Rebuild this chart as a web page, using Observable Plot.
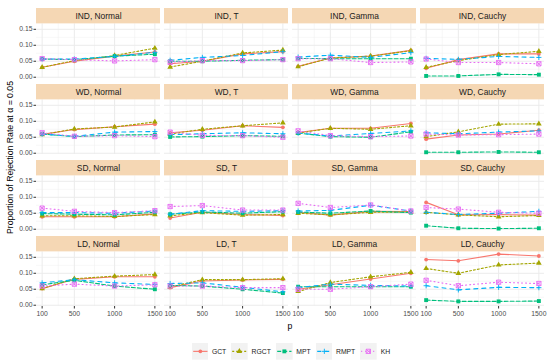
<!DOCTYPE html>
<html><head><meta charset="utf-8">
<script src="https://cdn.jsdelivr.net/npm/d3@7"></script>
<script src="https://cdn.jsdelivr.net/npm/@observablehq/plot@0.6"></script>
<style>
body{margin:0;background:#fff;font-family:"Liberation Sans",Arial,sans-serif;}
#chart{width:550px;height:364px;position:relative;overflow:hidden;}
#chart svg{display:block;}
#legend{position:absolute;left:191.7px;top:343.3px;height:16.7px;display:flex;align-items:center;font-size:6.8px;color:#1A1A1A;}
#legend svg{display:block;margin-right:3.5px;}
#legend span{margin-right:5.2px;white-space:nowrap;}
</style></head><body><div id="chart"></div><script>
const dependence = ["IND","WD","SD","LD"];
const distribution = ["Normal","T","Gamma","Cauchy"];
const pValues = [100,500,1000,1500];
const methods = ["GCT","RGCT","MPT","RMPT","KH"];
const methodColors = ["#F8766D","#A3A500","#00BF7D","#00B0F6","#E76BF3"];
const yTicks = [0, 0.05, 0.10, 0.15];
const yMinor = [0.025, 0.075, 0.125];
const xMinor = [300, 750, 1250];

// One row per panel (IND..LD x Normal,T,Gamma,Cauchy), values at p = 100, 500, 1000, 1500
const GCT = [
 [0.031,0.050,0.066,0.079],[0.042,0.050,0.073,0.080],[0.034,0.060,0.066,0.084],[0.028,0.055,0.073,0.073],
 [0.059,0.074,0.083,0.091],[0.064,0.072,0.086,0.081],[0.065,0.078,0.078,0.093],[0.044,0.057,0.060,0.072],
 [0.039,0.039,0.039,0.048],[0.035,0.053,0.046,0.043],[0.053,0.044,0.056,0.055],[0.084,0.045,0.046,0.044],
 [0.052,0.081,0.089,0.089],[0.055,0.076,0.079,0.081],[0.050,0.064,0.082,0.100],[0.143,0.139,0.160,0.154]
];
const RGCT = [
 [0.031,0.052,0.068,0.091],[0.032,0.050,0.076,0.085],[0.033,0.060,0.066,0.083],[0.031,0.052,0.071,0.081],
 [0.058,0.076,0.082,0.098],[0.060,0.075,0.086,0.095],[0.063,0.078,0.075,0.086],[0.052,0.067,0.091,0.092],
 [0.042,0.042,0.040,0.046],[0.042,0.052,0.044,0.046],[0.050,0.045,0.053,0.054],[0.053,0.045,0.039,0.043],
 [0.052,0.083,0.091,0.096],[0.057,0.080,0.080,0.083],[0.043,0.071,0.089,0.103],[0.115,0.100,0.126,0.132]
];
const MPT = [
 [0.057,0.055,0.066,0.072],[0.050,0.050,0.053,0.055],[0.059,0.058,0.058,0.058],[0.004,0.004,0.009,0.008],
 [0.060,0.052,0.057,0.058],[0.051,0.052,0.055,0.053],[0.063,0.052,0.050,0.067],[0.003,0.003,0.004,0.003],
 [0.049,0.047,0.045,0.053],[0.047,0.054,0.050,0.055],[0.054,0.050,0.057,0.052],[0.011,0.003,0.002,0.003],
 [0.064,0.078,0.060,0.050],[0.062,0.060,0.050,0.038],[0.058,0.058,0.058,0.058],[0.016,0.012,0.012,0.013]
];
const RMPT = [
 [0.057,0.057,0.065,0.078],[0.053,0.062,0.068,0.080],[0.063,0.069,0.062,0.077],[0.059,0.056,0.065,0.062],
 [0.060,0.053,0.066,0.068],[0.058,0.061,0.064,0.061],[0.063,0.054,0.062,0.070],[0.064,0.061,0.066,0.070],
 [0.052,0.052,0.050,0.057],[0.047,0.058,0.056,0.058],[0.057,0.059,0.075,0.057],[0.053,0.046,0.050,0.056],
 [0.070,0.080,0.070,0.065],[0.068,0.070,0.056,0.042],[0.055,0.066,0.062,0.060],[0.061,0.048,0.056,0.055]
];
const KH = [
 [0.058,0.055,0.051,0.055],[0.047,0.052,0.052,0.055],[0.058,0.058,0.046,0.048],[0.057,0.046,0.046,0.042],
 [0.064,0.053,0.055,0.052],[0.066,0.056,0.055,0.050],[0.070,0.055,0.052,0.054],[0.060,0.057,0.058,0.060],
 [0.066,0.056,0.052,0.058],[0.071,0.074,0.060,0.060],[0.081,0.068,0.076,0.057],[0.068,0.063,0.053,0.050],
 [0.060,0.066,0.060,0.064],[0.060,0.060,0.055,0.055],[0.050,0.050,0.058,0.066],[0.078,0.061,0.072,0.068]
];

const series = {GCT, RGCT, MPT, RMPT, KH};
const rows = [];
methods.forEach(m => series[m].forEach((vals, i) => vals.forEach((v, j) => rows.push({
  method: m, dep: dependence[Math.floor(i / 4)], dist: distribution[i % 4], p: pValues[j], value: v
}))));
const panels = dependence.flatMap(dep => distribution.map(dist => ({dep, dist})));

const squareCross = {
  draw(context, size) {
    const s = Math.sqrt(size) / 2;
    context.moveTo(-s, -s); context.lineTo(s, -s); context.lineTo(s, s); context.lineTo(-s, s); context.closePath();
    context.moveTo(-s, -s); context.lineTo(s, s); context.moveTo(s, -s); context.lineTo(-s, s);
  }
};
const styles = [
  {dash: null, symbol: "circle", d3sym: d3.symbolCircle, r: 1.9, filled: true},
  {dash: "2,2", symbol: "triangle", d3sym: d3.symbolTriangle, r: 2.1, filled: true},
  {dash: "4,2", symbol: "square", d3sym: d3.symbolSquare, r: 2.2, filled: true},
  {dash: "4,4", symbol: "plus", d3sym: d3.symbolPlus, r: 1.8, filled: false},
  {dash: "1,3", symbol: squareCross, d3sym: squareCross, r: 2.4, filled: false}
];

const X0 = 30, X1 = 1570, Y0 = -0.004, YP = 0.167, YS = 0.2151;
const stripFill = "#F5D7B4";

const lineMarks = methods.map((m, i) => Plot.line(rows.filter(d => d.method === m), {
  x: "p", y: "value", fx: "dist", fy: "dep",
  stroke: methodColors[i], strokeWidth: 1.1, strokeDasharray: styles[i].dash
}));
const dotMarks = methods.map((m, i) => Plot.dot(rows.filter(d => d.method === m), {
  x: "p", y: "value", fx: "dist", fy: "dep", symbol: styles[i].symbol, r: styles[i].r,
  fill: styles[i].filled ? methodColors[i] : "none",
  stroke: styles[i].filled ? "none" : methodColors[i], strokeWidth: 0.9
}));

const chart = Plot.plot({
  width: 550, height: 336,
  marginTop: 7.4, marginRight: 5.6, marginBottom: 28.4, marginLeft: 35.7,
  style: {fontFamily: "'Liberation Sans', Arial, sans-serif", background: "white", overflow: "visible"},
  fx: {domain: distribution, paddingInner: 0.034, paddingOuter: 0, axis: null},
  fy: {domain: dependence, paddingInner: 0.0784, paddingOuter: 0, axis: null},
  x: {domain: [X0, X1]},
  y: {domain: [Y0, YS]},
  marks: [
    Plot.ruleY(yMinor, {x1: () => X0, x2: () => X1, stroke: "#EFEFEF", strokeWidth: 0.5}),
    Plot.ruleX(xMinor, {y1: () => Y0, y2: () => YP, stroke: "#EFEFEF", strokeWidth: 0.5}),
    Plot.ruleY(yTicks, {x1: () => X0, x2: () => X1, stroke: "#EBEBEB", strokeWidth: 1}),
    Plot.ruleX(pValues, {y1: () => Y0, y2: () => YP, stroke: "#EBEBEB", strokeWidth: 1}),
    Plot.rect(panels, {fx: "dist", fy: "dep", x1: () => X0, x2: () => X1, y1: () => YP, y2: () => YS, fill: stripFill}),
    Plot.text(panels, {fx: "dist", fy: "dep", x: () => (X0 + X1) / 2, y: () => (YP + YS) / 2,
      text: d => `${d.dep}, ${d.dist}`, fontSize: 8.4, fill: "#1A1A1A"}),
    Plot.axisY({ticks: yTicks, tickFormat: d3.format(".2f"), tickSize: 2.5, tickPadding: 1.5,
      fontSize: 6.8, fill: "#4D4D4D", stroke: "#333333", label: null}),
    Plot.axisX({ticks: pValues, tickFormat: d => String(d), tickSize: 2.5, tickPadding: 2,
      fontSize: 6.8, fill: "#4D4D4D", stroke: "#333333", label: null}),
    ...lineMarks,
    ...dotMarks
  ]
});
document.getElementById("chart").appendChild(chart);

const svg = d3.select(chart);
svg.append("text").attr("transform", "translate(10.3,157.5) rotate(-90)")
  .attr("text-anchor", "middle").attr("dominant-baseline", "middle")
  .attr("font-size", 8.7).attr("fill", "#000").text("Proportion of Rejection Rate at α = 0.05");
svg.append("text").attr("x", 290).attr("y", 326.7)
  .attr("text-anchor", "middle").attr("dominant-baseline", "middle")
  .attr("font-size", 8.7).attr("fill", "#000").text("p");

const legend = d3.select("#chart").append("div").attr("id", "legend");
methods.forEach((m, i) => {
  const k = legend.append("svg").attr("width", 16.7).attr("height", 16.7);
  k.append("rect").attr("width", 16.7).attr("height", 16.7).attr("fill", "#F2F2F2");
  k.append("line").attr("x1", 1.2).attr("x2", 15.5).attr("y1", 8.35).attr("y2", 8.35)
    .attr("stroke", methodColors[i]).attr("stroke-width", 1.1)
    .attr("stroke-dasharray", styles[i].dash);
  k.append("path").attr("transform", "translate(8.35,8.35)")
    .attr("d", d3.symbol(styles[i].d3sym, Math.PI * styles[i].r * styles[i].r)())
    .attr("fill", styles[i].filled ? methodColors[i] : "none")
    .attr("stroke", styles[i].filled ? "none" : methodColors[i]).attr("stroke-width", 0.9);
  legend.append("span").text(m);
});
</script></body></html>
